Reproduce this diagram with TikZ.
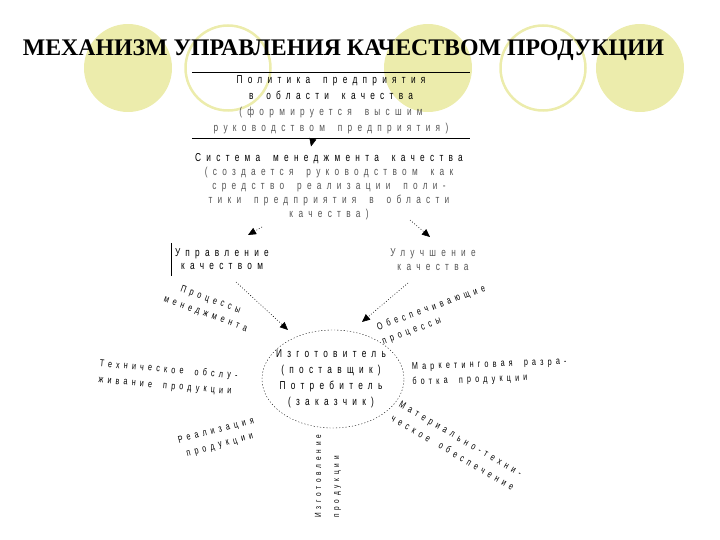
\documentclass[tikz,border=0pt]{standalone}
\usepackage{fontspec}
\setmainfont{Liberation Serif}
\newfontfamily\spacedfont[LetterSpace=46,FakeStretch=0.72,WordSpace=1.7]{Liberation Sans}
\newfontfamily\spacedsmall[LetterSpace=42,FakeStretch=0.72,WordSpace=1.8]{Liberation Sans}
\usepackage{tikz}
\usetikzlibrary{shapes.geometric,arrows.meta}
\definecolor{paleolive}{RGB}{236,236,172}
\definecolor{lightink}{RGB}{85,85,85}

\begin{document}
\begin{tikzpicture}[
    x=1pt, y=-1pt,
    disc/.style={circle, minimum size=88pt, inner sep=0pt},
    ring/.style={circle, minimum size=85pt, inner sep=0pt, draw=paleolive, line width=2.5pt},
    spaced/.style={font=\spacedfont\fontsize{11.5}{14}\selectfont, align=center, inner sep=2pt},
    sidelabel/.style={font=\spacedsmall\fontsize{10}{15}\selectfont, inner sep=1pt},
    darrow/.style={-{Triangle[length=8pt,width=7pt]}, dash pattern=on 0.8pt off 2pt, line width=0.6pt}
]
    \useasboundingbox (0,0) rectangle (720,540);

    % Circles behind the title
    \node[disc, fill=paleolive] (c1) at (128,68) {};
    \node[ring] (c2) at (228,68) {};
    \node[disc, fill=paleolive] (c3) at (428,68) {};
    \node[ring] (c4) at (543,68) {};
    \node[disc, fill=paleolive] (c5) at (640,68) {};

    % Title
    \node[font=\bfseries\fontsize{23.8}{28}\selectfont, anchor=base] (title) at (343.5,56) {МЕХАНИЗМ УПРАВЛЕНИЯ КАЧЕСТВОМ ПРОДУКЦИИ};

    % Policy
    \node[spaced, font=\spacedfont\fontsize{11.5}{16}\selectfont, minimum width=278pt, minimum height=66pt] (policy) at (331,105)
        {Политика предприятия\\в области качества\\{\color{lightink}(формируется высшим}\\{\color{lightink}руководством предприятия)}};
    \draw (policy.north west) -- (policy.north east);
    \draw (policy.south west) -- (policy.south east);

    % Quality management system
    \node[spaced] (system) at (329,186.5)
        {Система менеджмента качества\\{\color{lightink}(создается руководством как}\\{\color{lightink}средство реализации поли-}\\{\color{lightink}тики предприятия в области}\\{\color{lightink}качества)}};

    % Management and improvement
    \node[spaced, font=\spacedfont\fontsize{11.5}{13}\selectfont, inner xsep=4pt, minimum height=33pt] (control) at (222,259.5) {Управление\\качеством};
    \draw (control.north west) -- (control.south west);
    \node[spaced, text=lightink] (improve) at (433,260) {Улучшение\\качества};

    % Producer and consumer
    \node[spaced, font=\spacedfont\fontsize{11.5}{16}\selectfont] (maker) at (331,379)
        {Изготовитель\\(поставщик)\\Потребитель\\(заказчик)};
    \draw[dash pattern=on 1.2pt off 2pt] (333,379) ellipse [x radius=71pt, y radius=49pt];

    % Edges
    \draw[darrow] ([xshift=-18pt]policy.south) -- ([shift={(-18,-40)}]system.center);
    \draw[darrow] ([shift={(-67,40.5)}]system.center) -- ([shift={(26,-24.5)}]control.center);
    \draw[darrow] ([shift={(81,33.5)}]system.center) -- ([shift={(-3,-23)}]improve.center);
    \draw[darrow] ([shift={(14,22.5)}]control.center) -- ([shift={(-43,-49)}]maker.center);
    \draw[darrow] ([shift={(-25,23)}]improve.center) -- ([shift={(31,-57)}]maker.center);

    % Processes around the ellipse
    \node[sidelabel, rotate=-20, align=center] (procm) at (208,307) {Процессы\\менеджмента};
    \node[sidelabel, rotate=20, align=left, anchor=west] (procs) at (379,335) {Обеспечивающие\\процессы};
    \node[sidelabel, font=\spacedsmall\fontsize{10}{16}\selectfont, rotate=-5, align=left, anchor=west] (service) at (98,372) {Техническое обслу-\\живание продукции};
    \node[sidelabel, rotate=2, align=left, anchor=west] (market) at (411,375) {Маркетинговая разра-\\ботка продукции};
    \node[sidelabel, font=\spacedsmall\fontsize{10}{16}\selectfont, rotate=-30, align=left, anchor=west] (supply) at (395,410) {Материально-техни-\\ческое обеспечение};
    \node[sidelabel, rotate=15, align=center] (sales) at (218,438) {Реализация\\продукции};
    \node[sidelabel, font=\spacedsmall\fontsize{9}{18}\selectfont, rotate=90, align=left, anchor=west] (making) at (328,519) {Изготовление\\продукции};
\end{tikzpicture}
\end{document}
